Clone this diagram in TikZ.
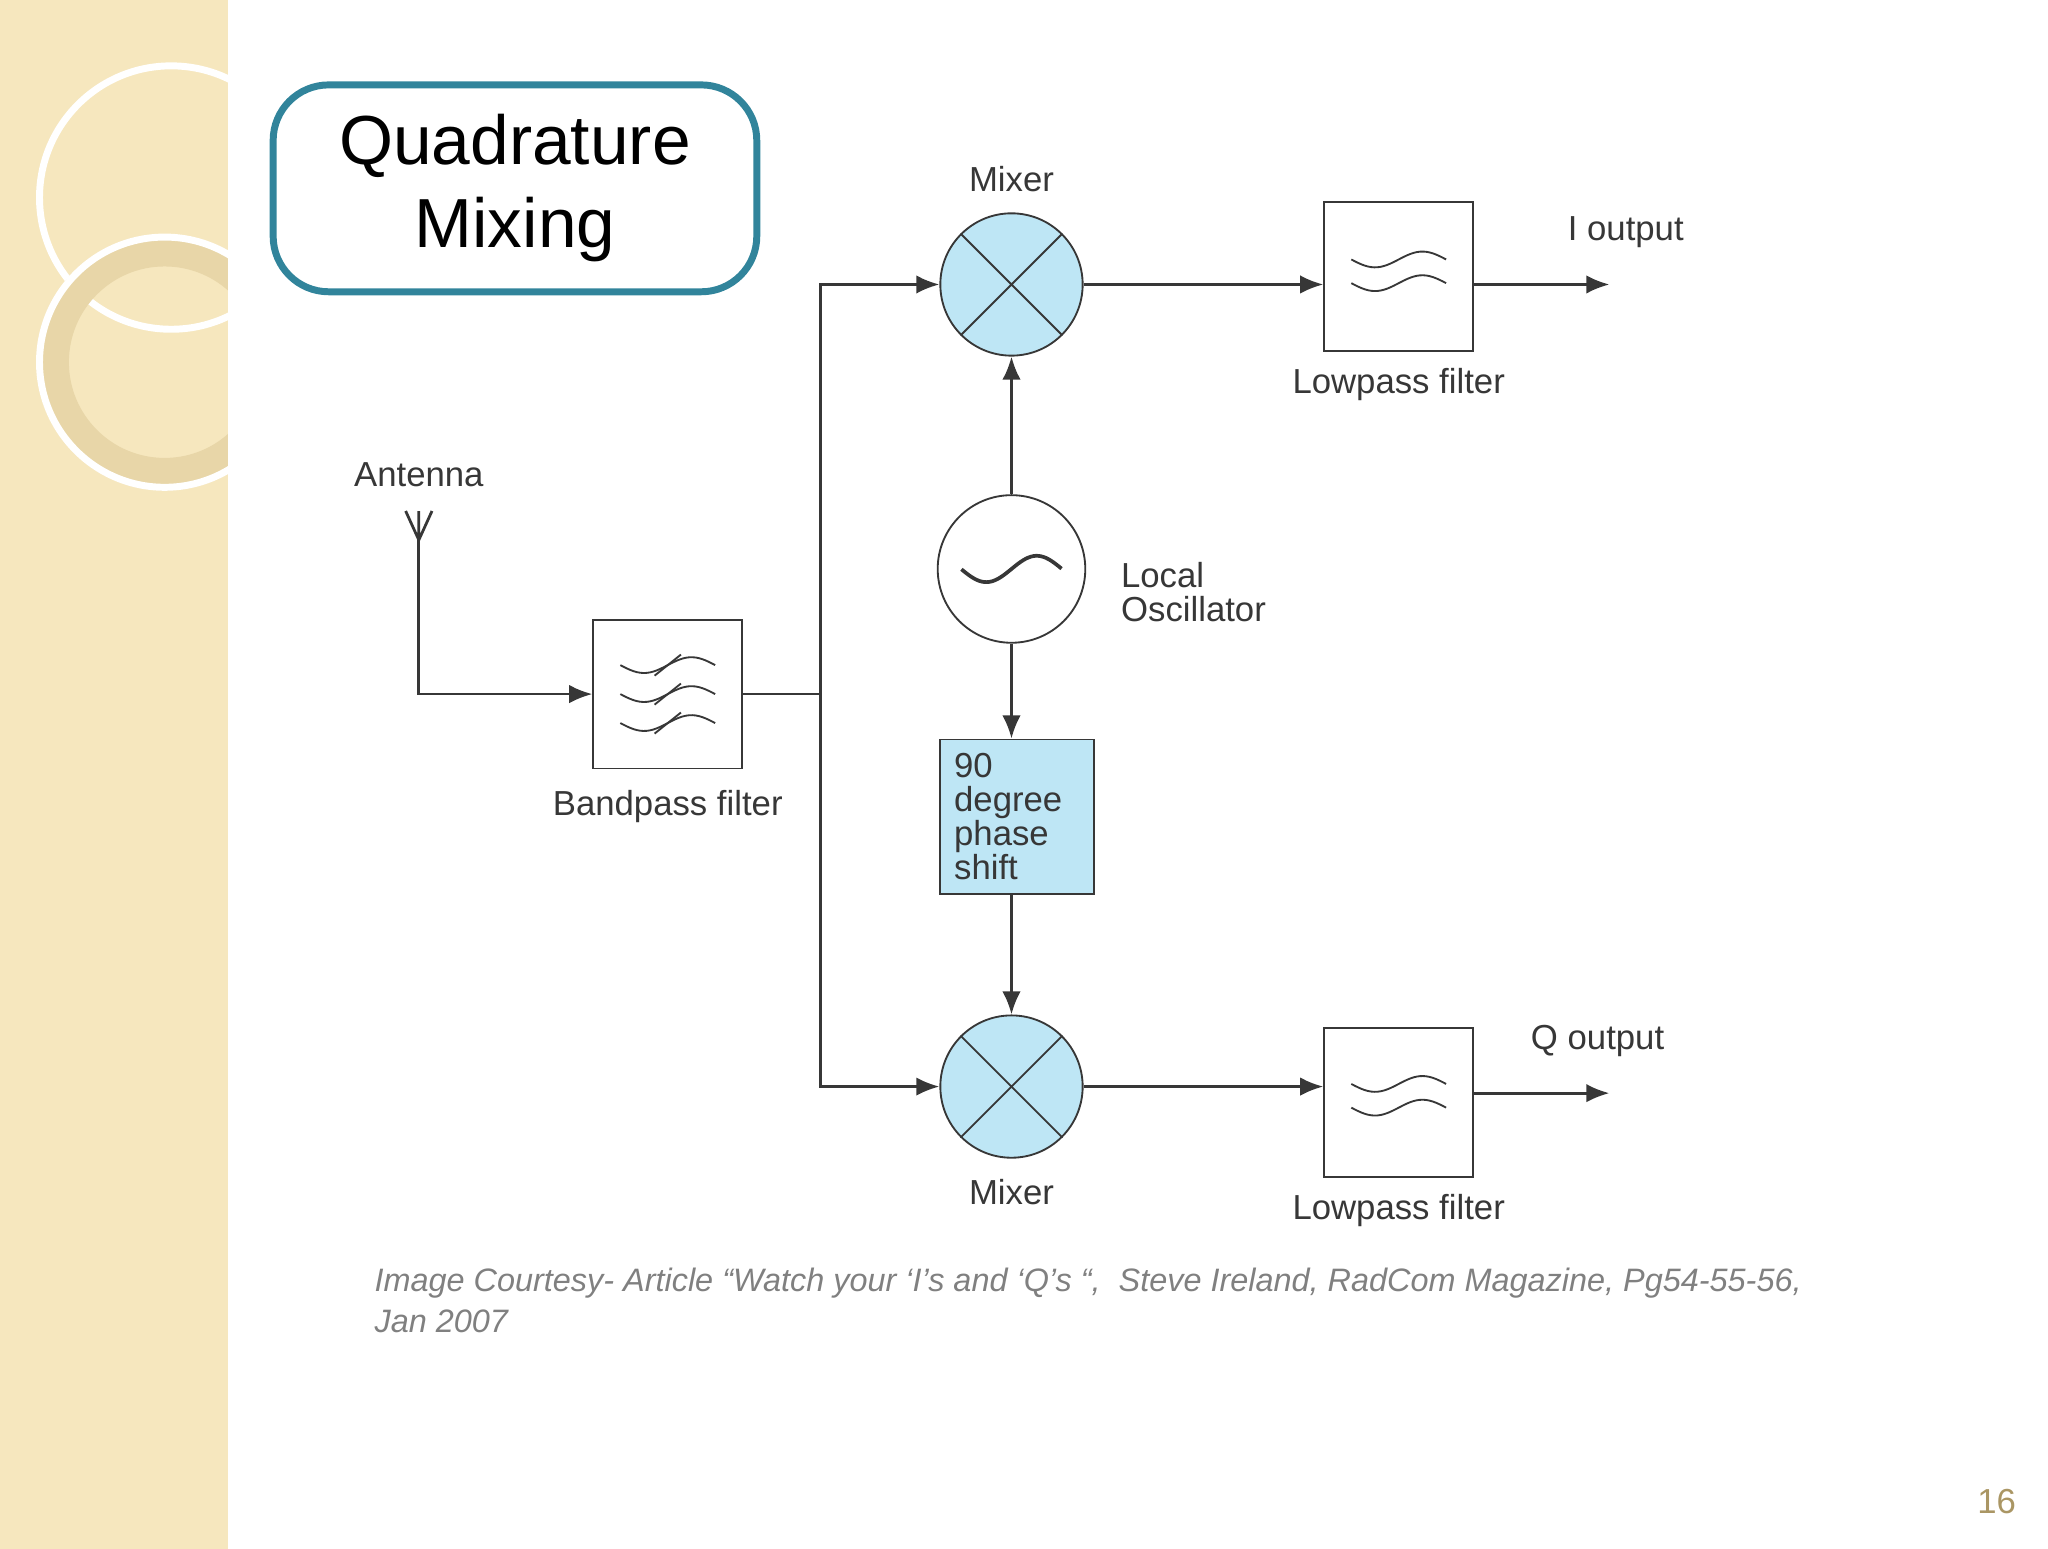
\documentclass[tikz,border=0pt]{standalone}
\usepackage{fontspec}
\setmainfont{Liberation Sans}
\usetikzlibrary{arrows.meta, positioning}
\definecolor{strip}{RGB}{246,231,190}
\definecolor{ring}{RGB}{232,214,168}
\definecolor{frame}{RGB}{49,132,155}
\definecolor{mixblue}{RGB}{190,230,245}
\definecolor{wire}{RGB}{55,55,55}
\definecolor{pagenum}{RGB}{170,150,100}

\begin{document}
\begin{tikzpicture}[x=0.01cm, y=-0.01cm,
  every node/.style={font=\fontsize{7.5}{8.5}\selectfont, text=wire},
  mixer/.style={circle, draw=wire, fill=mixblue, minimum size=1.08cm, inner sep=0pt},
  osc/.style={circle, draw=wire, fill=white, minimum size=1.12cm, inner sep=0pt},
  filter/.style={rectangle, draw=wire, fill=white, minimum size=1.13cm, inner sep=0pt},
  phasebox/.style={rectangle, draw=wire, fill=mixblue, minimum size=1.17cm, inner sep=2pt,
    text width=0.95cm, align=left, font=\fontsize{7.5}{7.3}\selectfont},
  line/.style={draw=wire, line width=0.6pt, -{Latex[length=5pt, width=4pt]}},
  plain/.style={draw=wire, line width=0.6pt}]
\useasboundingbox (0,0) rectangle (1555,1176);
% side strip
\fill[strip] (0,0) rectangle (173,1176);
\begin{scope}
\clip (0,0) rectangle (173,1176);
\draw[white, line width=1.5pt] (130,150) circle (100);
\draw[ring, line width=7pt] (125,275) circle (85);
\draw[white, line width=1.5pt] (125,275) circle (95);
\end{scope}

% title
\node[draw=frame, line width=1.5pt, rounded corners=12pt, minimum width=3.67cm,
  minimum height=1.57cm, align=center, text=black,
  font=\fontsize{15}{18}\selectfont] (title) at (391,143) {Quadrature\\Mixing};

% blocks
\node[mixer] (mixI) at (768,216) {};
\node[mixer] (mixQ) at (768,825) {};
\node[osc] (lo) at (768,432) {};
\node[phasebox] (phase) at (772,620) {90\\degree\\phase\\shift};
\node[filter] (bpf) at (507,527) {};
\node[filter] (lpfI) at (1062,210) {};
\node[filter] (lpfQ) at (1062,837) {};
\coordinate (ant) at (318,410);
\coordinate (junc) at (623,527);
\coordinate (outI) at (1222,216);
\coordinate (outQ) at (1222,830);

% symbols
\foreach \m in {mixI, mixQ} {
  \draw[wire] (\m.45) -- (\m.225) (\m.135) -- (\m.315);
}
\draw[wire, line width=0.8pt] plot[domain=-38:38, samples=40] ({768+\x}, {432-10*sin(\x*4.7)});
\foreach \dy in {-22, 0, 22} {
  \draw[wire] plot[domain=-36:36, samples=30] ({507+\x}, {527+\dy-6*sin(\x*5)});
  \draw[wire] (497,527+\dy+8) -- (517,527+\dy-8);
}
\foreach \cy in {197, 823} {
  \draw[wire] plot[domain=-36:36, samples=30] ({1062+\x}, {\cy-6*sin(\x*5)});
  \draw[wire] plot[domain=-36:36, samples=30] ({1062+\x}, {\cy+18-6*sin(\x*5)});
}
\draw[plain] (ant) ++(-10,-22) -- (ant) -- ++(10,-22) (ant) ++(0,-22) -- (ant);

% connectors
\draw[line] (ant) |- (bpf.west);
\draw[plain] (bpf.east) -- (junc);
\draw[line] (junc) |- (mixI.west);
\draw[line] (junc) |- (mixQ.west);
\draw[line] (lo.north) -- (mixI.south);
\draw[line] (lo.south) -- (phase.north -| lo);
\draw[line] (phase.south -| lo) -- (mixQ.north);
\draw[line] (mixI.east) -- (lpfI.west |- mixI);
\draw[line] (mixQ.east) -- (lpfQ.west |- mixQ);
\draw[line] (lpfI.east |- outI) -- (outI);
\draw[line] (lpfQ.east |- outQ) -- (outQ);

% labels
\node[above=1pt of mixI] {Mixer};
\node[below=1pt of mixQ] {Mixer};
\node[below=0pt of lpfI] {Lowpass filter};
\node[below=0pt of lpfQ] {Lowpass filter};
\node[below=1pt of bpf] {Bandpass filter};
\node[above=8pt of ant] {Antenna};
\node[anchor=west] at (1178,176) {I output};
\node[anchor=west] at (1150,790) {Q output};
\node[right=4pt of lo, yshift=-5pt, align=left, font=\fontsize{7.5}{7.5}\selectfont] {Local\\Oscillator};

% caption
\node[anchor=north west, align=left, text=gray, font=\itshape\fontsize{7}{9}\selectfont]
  (cap) at (272,950) {Image Courtesy- Article “Watch your ‘I’s and ‘Q’s “,\ \ Steve Ireland, RadCom Magazine, Pg54-55-56,\\Jan 2007};
\node[text=pagenum, font=\fontsize{7.5}{9}\selectfont] (page) at (1516,1140) {16};
\end{tikzpicture}
\end{document}
